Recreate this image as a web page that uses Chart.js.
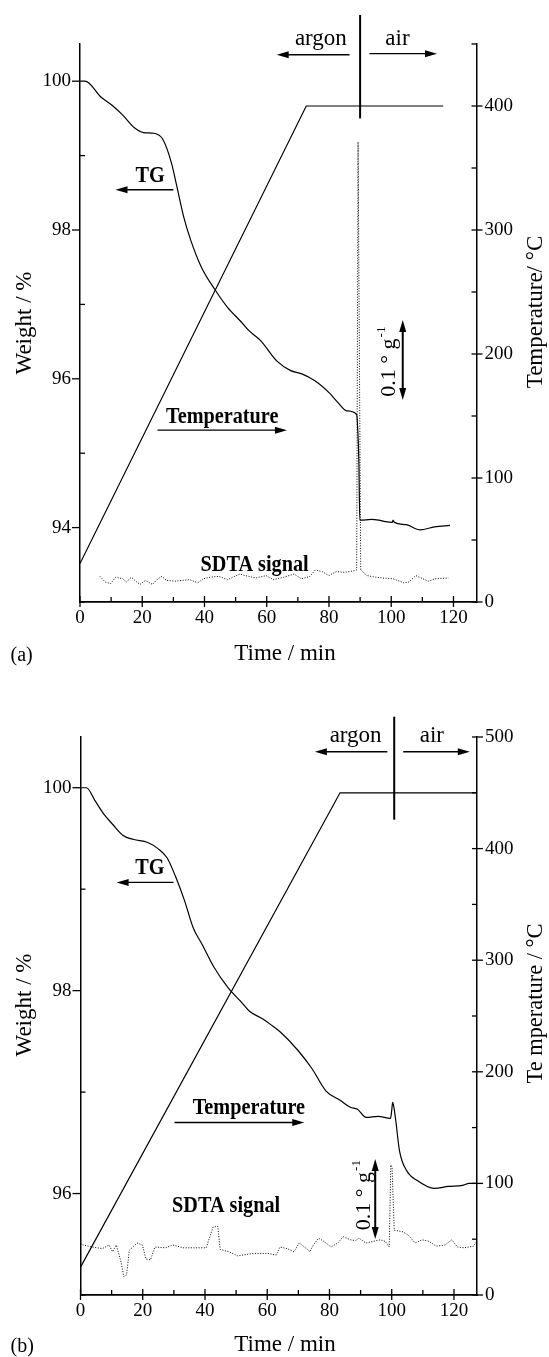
<!DOCTYPE html>
<html lang="en">
<head>
<meta charset="UTF-8">
<title>TG / SDTA curves</title>
<script src="https://cdn.jsdelivr.net/npm/chart.js"></script>
<style>
  body { margin: 0; background: #fff; }
  canvas { display: block; }
</style>
</head>
<body>
<canvas id="chartA" width="549" height="680"></canvas>
<canvas id="chartB" width="549" height="677"></canvas>
<script>
// ---- shared tick labels ----
const timeTicks = [0, 20, 40, 60, 80, 100, 120];

// ---- panel (a) ----
const weightTicksA = [94, 96, 98, 100];
const tempTicksA = [0, 100, 200, 300, 400];
const tgTimeA = [0, 1.6, 6.9, 10.2, 13.6, 17.6, 20.4, 23.8, 26.6, 29.4, 31.1, 33.3, 35.6, 39.0, 43.5, 47.4, 51.9, 54.2, 58.1, 63.2, 67.7, 71.1, 75.6, 80.1, 82.9, 85.7, 88.9, 89.2, 89.6, 89.9, 90.2, 93.6, 96, 98.1, 100.3, 100.6, 101, 104.8, 109.3, 113.9, 118.9];
const tgWeightA = [100, 100, 99.78, 99.68, 99.55, 99.37, 99.31, 99.30, 99.22, 98.90, 98.59, 98.18, 97.86, 97.50, 97.19, 96.96, 96.76, 96.65, 96.51, 96.24, 96.11, 96.07, 95.97, 95.81, 95.68, 95.57, 95.52, 95.35, 94.9, 94.1, 94.10, 94.11, 94.10, 94.08, 94.07, 94.1, 94.07, 94.04, 93.97, 94.01, 94.03];
const tempTimeA = [0, 72.7, 116.7];
const tempA = [31, 400, 400];
const sdtaTimeA = [6.4, 8.1, 9.8, 11.5, 13.8, 14.9, 16.5, 18.2, 19.3, 21.0, 23.3, 25.0, 26.3, 27.8, 30.6, 35.1, 37.9, 39.6, 41.8, 44.6, 47.4, 51.4, 53.1, 56.5, 59.8, 62.1, 65.5, 68.8, 71.1, 73.9, 75.6, 77.8, 80.0, 82.3, 85.1, 87.9, 88.9, 89.35, 90.2, 92.2, 95.0, 97.2, 100.6, 104.0, 105.7, 107.9, 110.2, 111.9, 114.1, 118.4];
const sdtaA = [0.032, 0.025, 0.023, 0.031, 0.029, 0.025, 0.031, 0.025, 0.022, 0.027, 0.022, 0.029, 0.032, 0.027, 0.026, 0.028, 0.024, 0.029, 0.031, 0.032, 0.028, 0.035, 0.033, 0.030, 0.033, 0.028, 0.031, 0.035, 0.029, 0.032, 0.040, 0.038, 0.033, 0.038, 0.037, 0.039, 0.040, 0.575, 0.040, 0.033, 0.031, 0.030, 0.029, 0.024, 0.025, 0.033, 0.029, 0.026, 0.029, 0.030];

// ---- panel (b) ----
const weightTicksB = [96, 98, 100];
const tempTicksB = [0, 100, 200, 300, 400, 500];
const tgTimeB = [0, 1.9, 4.7, 7.5, 10.3, 13.7, 17.1, 21.6, 24.9, 27.8, 30.6, 33.4, 36.2, 39.0, 42.9, 47.4, 51.9, 54.2, 58.6, 60.9, 64.3, 69.9, 74.4, 78.9, 83.4, 86.7, 89.0, 91.8, 95.7, 99.6, 100.0, 100.3, 100.7, 101.3, 102.5, 104.7, 108.1, 113.7, 118.2, 122.7, 124.9, 127.4];
const tgWeightB = [100, 100, 99.87, 99.74, 99.64, 99.53, 99.49, 99.46, 99.40, 99.31, 99.12, 98.89, 98.62, 98.46, 98.23, 98.03, 97.88, 97.80, 97.72, 97.67, 97.59, 97.41, 97.23, 97.01, 96.92, 96.85, 96.83, 96.75, 96.76, 96.74, 96.82, 96.90, 96.85, 96.72, 96.42, 96.23, 96.13, 96.05, 96.07, 96.08, 96.10, 96.10];
const tempTimeB = [0, 83.4, 127.4];
const tempB = [25, 450, 450];
const sdtaTimeB = [0, 0.9, 3.6, 7.0, 9.2, 10.3, 11.5, 13.1, 13.9, 14.8, 15.7, 18.2, 19.9, 21.0, 22.5, 23.9, 27.3, 29.6, 33.0, 37.5, 40.4, 42.6, 44.1, 44.9, 47.7, 50.5, 55.6, 60.1, 62.9, 64.1, 66.3, 68.6, 70.3, 72.6, 73.7, 74.8, 76.5, 78.2, 80.5, 82.7, 84.4, 86.7, 88.4, 89.5, 91.7, 94.0, 96.3, 97.9, 99.2, 99.7, 100.1, 100.8, 103.6, 105.3, 107.5, 109.8, 112.0, 114.3, 117.1, 119.3, 121.1, 123.3, 126.2, 127.4];
const sdtaB = [0.065, 0.0625, 0.060, 0.058, 0.0625, 0.054, 0.0625, 0.040, 0.023, 0.025, 0.056, 0.065, 0.0625, 0.045, 0.044, 0.060, 0.059, 0.0625, 0.059, 0.059, 0.059, 0.085, 0.086, 0.057, 0.054, 0.049, 0.052, 0.052, 0.050, 0.060, 0.058, 0.054, 0.065, 0.058, 0.054, 0.0625, 0.071, 0.067, 0.060, 0.065, 0.073, 0.069, 0.068, 0.071, 0.065, 0.067, 0.069, 0.067, 0.060, 0.1625, 0.160, 0.081, 0.079, 0.075, 0.065, 0.069, 0.067, 0.061, 0.0625, 0.069, 0.060, 0.059, 0.061, 0.067];

const SERIF = '"Liberation Serif", "Times New Roman", Times, serif';
Chart.defaults.font.family = SERIF;
Chart.defaults.color = '#000';

function pts(xs, ys) {
    return xs.map((x, i) => ({ x: x, y: ys[i] }));
}

function arrowHead(ctx, x, y, dx, dy) {
    const L = 12, W = 3.5;
    ctx.beginPath();
    ctx.moveTo(x, y);
    ctx.lineTo(x - dx * L - dy * W, y - dy * L + dx * W);
    ctx.lineTo(x - dx * L + dy * W, y - dy * L - dx * W);
    ctx.closePath();
    ctx.fill();
}

// ticks, annotations and titles, drawn on top of the chart
function makeDecorations(spec) {
    return {
        id: 'decorations',
        afterDraw(chart) {
            const ctx = chart.ctx, area = chart.chartArea;
            const sx = chart.scales.x;
            ctx.save();
            ctx.strokeStyle = '#000';
            ctx.fillStyle = '#000';
            const seg = (x1, y1, x2, y2, w) => {
                ctx.lineWidth = w || 1.3;
                ctx.beginPath(); ctx.moveTo(x1, y1); ctx.lineTo(x2, y2); ctx.stroke();
            };
            const marks = (scale, minor, major, fn) => {
                const first = Math.ceil(scale.min / minor - 1e-9);
                for (let k = first; k * minor <= scale.max + 1e-9; k++) {
                    const v = k * minor;
                    const isMajor = Math.abs(v / major - Math.round(v / major)) < 1e-6;
                    fn(scale.getPixelForValue(v), isMajor);
                }
            };
            // tick marks
            marks(sx, 10, 20, (p, M) => seg(p, area.bottom - (M ? 6 : 5), p, area.bottom + (M ? 5 : 0)));
            marks(chart.scales.y, 1, 2, (p, M) => seg(M ? area.left - 8 : area.left, p, M ? area.left : area.left + 5, p));
            marks(chart.scales.yT, 50, 100, (p, M) => seg(area.right - 5, p, M ? area.right + 6 : area.right, p));

            const X = t => sx.getPixelForValue(t);
            const Y = (v, axis) => chart.scales[axis || 'y'].getPixelForValue(v);

            spec.notes.forEach(n => {
                if (n.kind === 'text') {
                    ctx.save();
                    ctx.translate(X(n.t), Y(n.v));
                    ctx.textAlign = 'center';
                    ctx.textBaseline = 'alphabetic';
                    if (n.bold) {
                        ctx.font = 'bold 23px ' + SERIF;
                        ctx.scale(0.88, 1);
                    } else {
                        ctx.font = '23px ' + SERIF;
                    }
                    ctx.fillText(n.text, 0, 0);
                    ctx.restore();
                } else if (n.kind === 'arrow') {
                    const x1 = X(n.t1), x2 = X(n.t2), y = Y(n.v);
                    const d = x2 > x1 ? 1 : -1;
                    seg(x1, y, x2 - d * 8, y, 1.4);
                    arrowHead(ctx, x2, y, d, 0);
                } else if (n.kind === 'vline') {
                    seg(X(n.t), Y(n.v1), X(n.t), Y(n.v2), 2);
                } else if (n.kind === 'darrow') {
                    const x = X(n.t), y1 = Y(n.v1, 'yS'), y2 = Y(n.v2, 'yS');
                    seg(x, y1 - 8, x, y2 + 8, 2);
                    arrowHead(ctx, x, y1, 0, 1);
                    arrowHead(ctx, x, y2, 0, -1);
                } else if (n.kind === 'unit') {
                    ctx.save();
                    ctx.translate(X(n.t), Y(n.v, 'yS'));
                    ctx.rotate(-Math.PI / 2);
                    ctx.textAlign = 'left';
                    ctx.textBaseline = 'alphabetic';
                    ctx.font = '22px ' + SERIF;
                    const main = '0.1 \u00B0 g';
                    ctx.fillText(main, 0, 0);
                    const w = ctx.measureText(main).width;
                    ctx.font = '13px ' + SERIF;
                    ctx.fillText('-1', w + 1, -10);
                    ctx.restore();
                }
            });

            // axis titles and panel letter
            ctx.font = '23px ' + SERIF;
            ctx.textBaseline = 'middle';
            ctx.textAlign = 'center';
            const rot = (text, x, y, maxW) => {
                ctx.save();
                ctx.translate(x, y);
                ctx.rotate(-Math.PI / 2);
                if (maxW) ctx.fillText(text, 0, 0, maxW); else ctx.fillText(text, 0, 0);
                ctx.restore();
            };
            rot('Weight / %', 25, spec.leftTitleY);
            rot(spec.rightTitle, 536, spec.rightTitleY, spec.rightTitleMax);
            ctx.textBaseline = 'alphabetic';
            ctx.fillText('Time / min', 285, spec.bottomTitleY);
            ctx.textAlign = 'left';
            ctx.font = '20px ' + SERIF;
            ctx.fillText(spec.letter, 10.5, spec.bottomTitleY + 1);
            ctx.restore();
        }
    };
}

function makePanel(id, p) {
    const canvas = document.getElementById(id);
    const H = canvas.height, W = canvas.width;
    const tickFont = { size: 19 };
    const noGrid = { display: false, drawTicks: false };
    const ticksFrom = arr => s => { s.ticks = arr.map(v => ({ value: v })); };
    return new Chart(canvas, {
        type: 'line',
        data: {
            datasets: [
                { data: pts(p.tgTime, p.tgWeight), yAxisID: 'y', borderColor: '#000', borderWidth: 1.2, pointRadius: 0, cubicInterpolationMode: 'monotone' },
                { data: pts(p.tempTime, p.temp), yAxisID: 'yT', borderColor: '#000', borderWidth: 1.2, pointRadius: 0, tension: 0 },
                { data: pts(p.sdtaTime, p.sdta), yAxisID: 'yS', borderColor: '#000', borderWidth: 1, borderDash: [1, 1.6], pointRadius: 0, tension: 0 }
            ]
        },
        options: {
            responsive: false,
            animation: false,
            devicePixelRatio: 1,
            events: [],
            layout: { padding: { top: p.area.top, left: 0, right: 0, bottom: 0 } },
            plugins: { legend: { display: false }, tooltip: { enabled: false } },
            scales: {
                x: {
                    type: 'linear', min: 0, max: 127.4,
                    afterBuildTicks: ticksFrom(timeTicks),
                    ticks: { font: tickFont, padding: 5, maxRotation: 0, autoSkip: false },
                    grid: noGrid,
                    border: { color: '#000', width: 1.8 },
                    afterFit: s => { s.height = H - p.area.bottom; }
                },
                y: {
                    position: 'left', min: p.wMin, max: p.wMax,
                    afterBuildTicks: ticksFrom(p.wTicks),
                    ticks: { font: tickFont, padding: 9 },
                    grid: noGrid,
                    border: { color: '#000', width: 1.5 },
                    afterFit: s => { s.width = p.area.left; }
                },
                yT: {
                    position: 'right', min: 0, max: p.tMax,
                    afterBuildTicks: ticksFrom(p.tTicks),
                    ticks: { font: tickFont, padding: 8 },
                    grid: noGrid,
                    border: { color: '#000', width: 1.5 },
                    afterFit: s => { s.width = W - p.area.right; }
                },
                yS: { display: false, min: 0, max: 0.6975 }
            }
        },
        plugins: [makeDecorations(p.deco)]
    });
}

makePanel('chartA', {
    tgTime: tgTimeA, tgWeight: tgWeightA, tempTime: tempTimeA, temp: tempA, sdtaTime: sdtaTimeA, sdta: sdtaA,
    wMin: 93, wMax: 100.5, wTicks: weightTicksA, tMax: 450, tTicks: tempTicksA,
    area: { top: 44, bottom: 602, left: 80, right: 476.5 },
    deco: {
        letter: '(a)', rightTitle: 'Temperature/ \u00B0C',
        leftTitleY: 323, rightTitleY: 312, bottomTitleY: 660,
        notes: [
            { kind: 'text', t: 77.4, v: 100.48, text: 'argon' },
            { kind: 'arrow', t1: 86.6, t2: 63.2, v: 100.355 },
            { kind: 'text', t: 102.0, v: 100.48, text: 'air' },
            { kind: 'arrow', t1: 93.0, t2: 114.7, v: 100.37 },
            { kind: 'vline', t: 90.0, v1: 100.89, v2: 99.50 },
            { kind: 'text', t: 22.5, v: 98.64, text: 'TG', bold: true },
            { kind: 'arrow', t1: 30.0, t2: 11.4, v: 98.54 },
            { kind: 'text', t: 45.7, v: 95.41, text: 'Temperature', bold: true },
            { kind: 'arrow', t1: 24.9, t2: 66.5, v: 95.31 },
            { kind: 'text', t: 56.1, v: 93.41, text: 'SDTA signal', bold: true },
            { kind: 'darrow', t: 103.7, v1: 0.2525, v2: 0.3525 },
            { kind: 'unit', t: 101.2, v: 0.2566 }
        ]
    }
});

makePanel('chartB', {
    tgTime: tgTimeB, tgWeight: tgWeightB, tempTime: tempTimeB, temp: tempB, sdtaTime: sdtaTimeB, sdta: sdtaB,
    wMin: 95, wMax: 100.5, wTicks: weightTicksB, tMax: 500, tTicks: tempTicksB,
    area: { top: 57, bottom: 615, left: 80.5, right: 477 },
    deco: {
        letter: '(b)', rightTitle: 'Te mperature / \u00B0C', rightTitleMax: 160,
        leftTitleY: 325, rightTitleY: 323.5, bottomTitleY: 671,
        notes: [
            { kind: 'text', t: 88.4, v: 100.453, text: 'argon' },
            { kind: 'arrow', t1: 98.6, t2: 75.3, v: 100.355 },
            { kind: 'text', t: 112.9, v: 100.453, text: 'air' },
            { kind: 'arrow', t1: 103.7, t2: 125.1, v: 100.355 },
            { kind: 'vline', t: 100.8, v1: 100.70, v2: 99.685 },
            { kind: 'text', t: 22.3, v: 99.15, text: 'TG', bold: true },
            { kind: 'arrow', t1: 29.9, t2: 11.6, v: 99.067 },
            { kind: 'text', t: 54.1, v: 96.78, text: 'Temperature', bold: true },
            { kind: 'arrow', t1: 30.2, t2: 71.9, v: 96.70 },
            { kind: 'text', t: 46.8, v: 95.816, text: 'SDTA signal', bold: true },
            { kind: 'darrow', t: 94.7, v1: 0.07, v2: 0.17 },
            { kind: 'unit', t: 93.15, v: 0.081 }
        ]
    }
});
</script>
</body>
</html>
